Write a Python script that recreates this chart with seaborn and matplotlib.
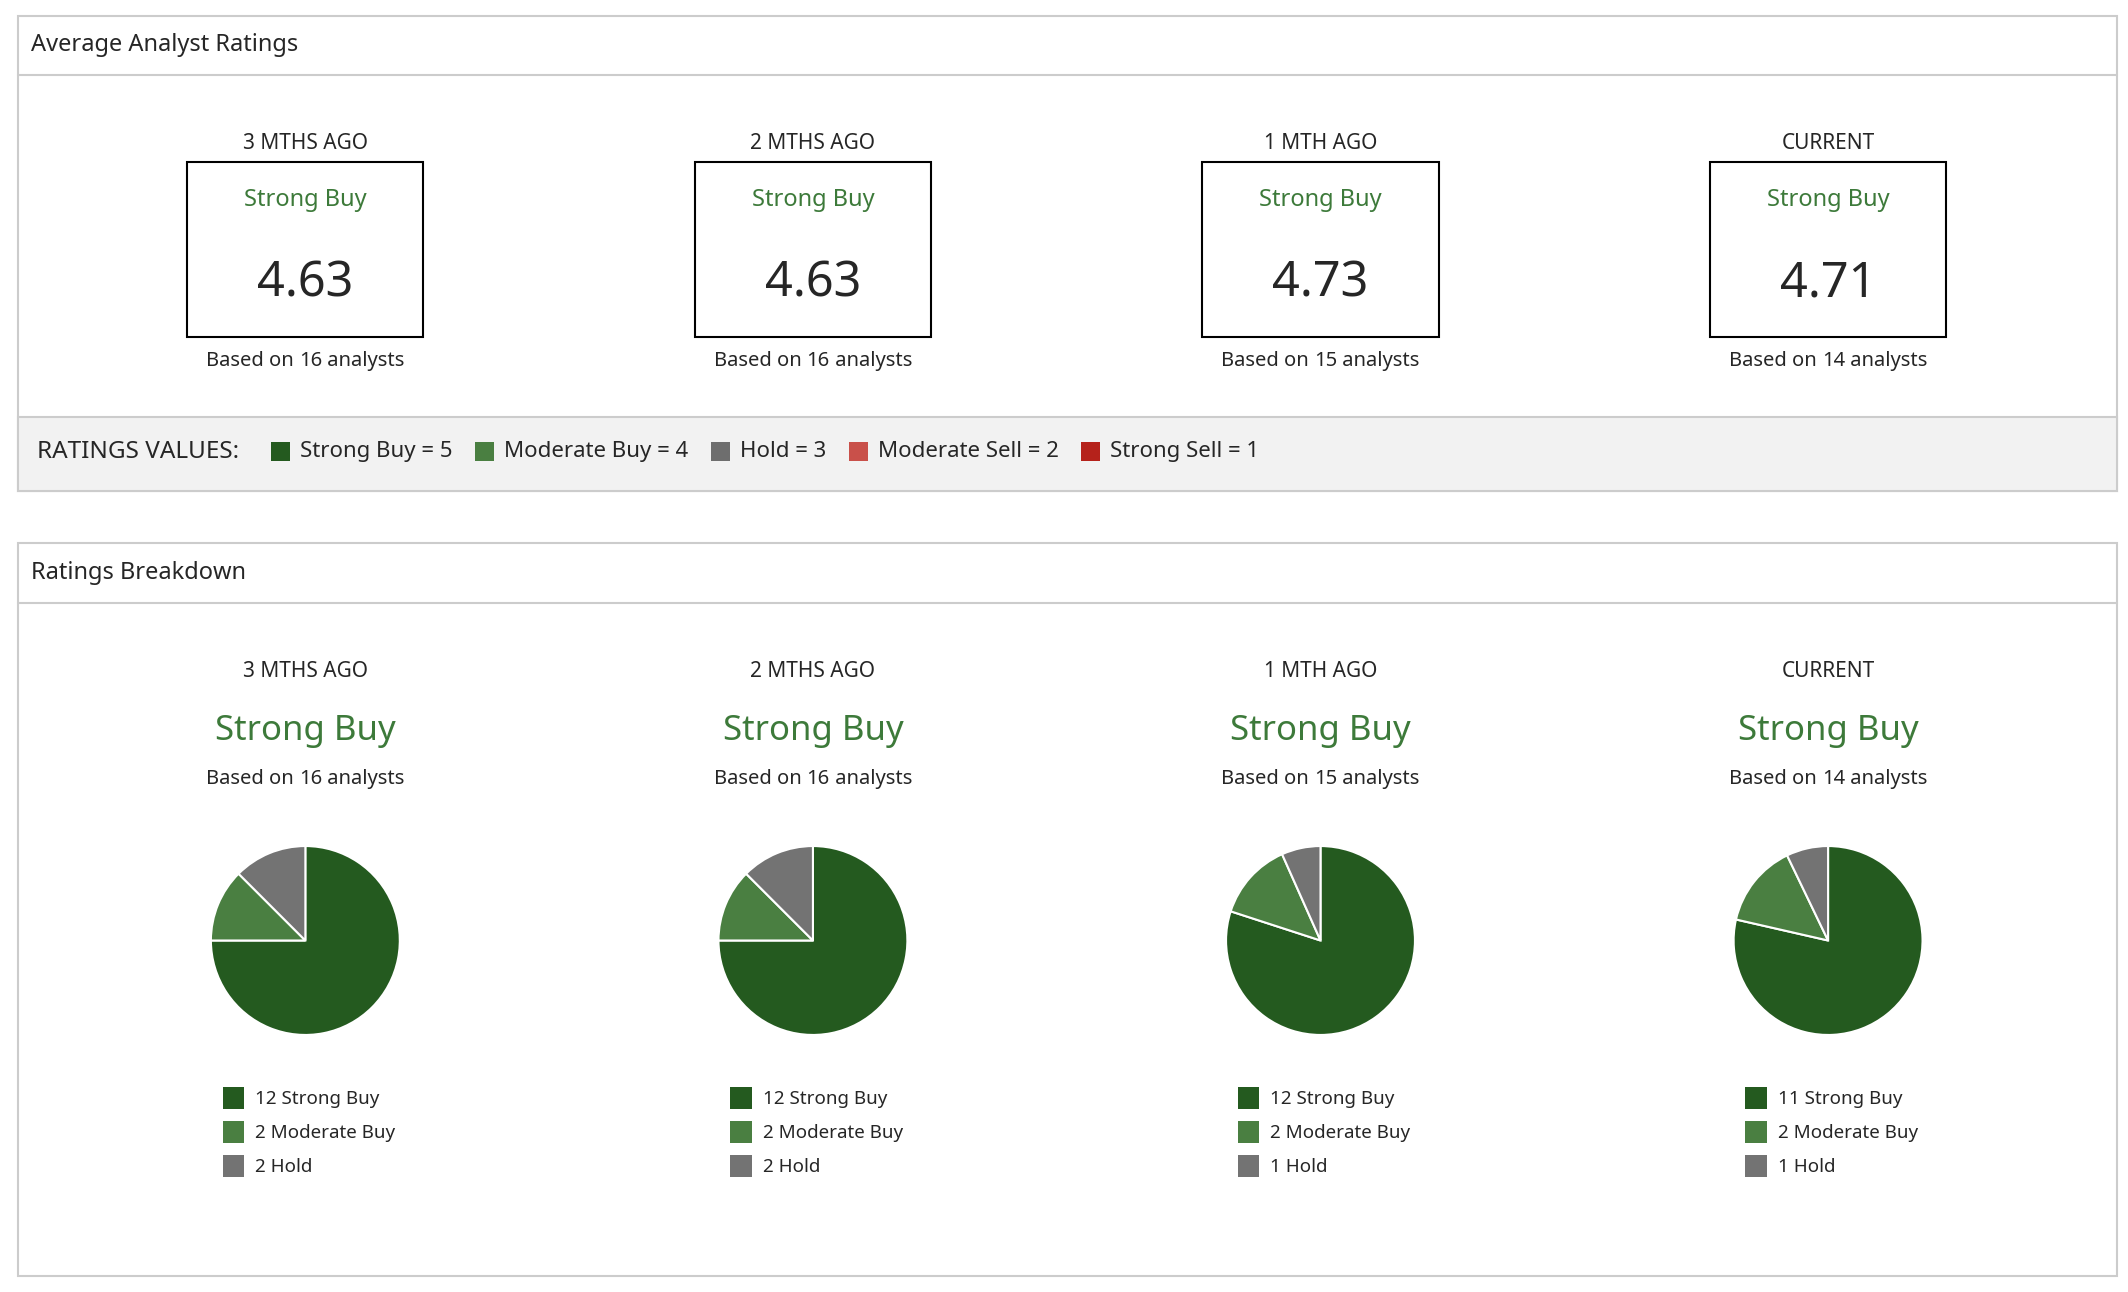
import matplotlib
matplotlib.use("Agg")
import matplotlib.pyplot as plt
import seaborn as sns
from matplotlib.patches import Rectangle

sns.set_theme(style="white")
plt.rcParams['font.family'] = ['Noto Sans', 'DejaVu Sans']

periods = ["3 MTHS AGO", "2 MTHS AGO", "1 MTH AGO", "CURRENT"]
avg_ratings = [4.63, 4.63, 4.73, 4.71]
consensus = ["Strong Buy", "Strong Buy", "Strong Buy", "Strong Buy"]
n_analysts = [16, 16, 15, 14]
strong_buy = [12, 12, 12, 11]
moderate_buy = [2, 2, 2, 2]
hold = [2, 2, 1, 1]
rating_names = ["Strong Buy = 5", "Moderate Buy = 4", "Hold = 3", "Moderate Sell = 2", "Strong Sell = 1"]

pal = sns.color_palette(["#245a1f", "#4a7f41", "#6e6e6e", "#c9504a", "#b5221b"])
pie_pal = sns.color_palette(["#245a1f", "#4a7f41", "#737373"])
green_txt = "#3d7a3a"

W, H = 1568, 952
fig = plt.figure(figsize=(21.28, 12.92), dpi=100)
ax = fig.add_axes([0, 0, 1, 1])
ax.set_xlim(0, W)
ax.set_ylim(H, 0)
ax.axis("off")
fig.canvas.draw()
renderer = fig.canvas.get_renderer()
scale = 2128 / W


def width_of(t):
    return t.get_window_extent(renderer).width / scale


def based_on(cx, y, n):
    parts = [("Based on ", "normal"), (str(n), "bold"), (" analysts", "normal")]
    texts = [ax.text(0, y, s, fontsize=14.5, weight=w, va="center") for s, w in parts]
    widths = [width_of(t) for t in texts]
    x = cx - sum(widths) / 2
    for t, w in zip(texts, widths):
        t.set_x(x)
        x += w


# panels
for y0, y1, hline, title in [(12, 362, 55, "Average Analyst Ratings"), (400, 940, 444, "Ratings Breakdown")]:
    ax.add_patch(Rectangle((13, y0), 1547, y1 - y0, fill=False, ec="#cccccc", lw=1.5))
    ax.plot([13, 1560], [hline, hline], color="#cccccc", lw=1.5)
    ax.text(23, (y0 + hline) / 2, title, fontsize=17, weight="bold", va="center")

ax.add_patch(Rectangle((13, 307), 1547, 55, fc="#f2f2f2", ec="#cccccc", lw=1.5))
t = ax.text(27, 333, "RATINGS VALUES:", fontsize=17.5, va="center")
x = 27 + width_of(t) + 24
for name, c in zip(rating_names, pal):
    ax.add_patch(Rectangle((x, 326), 14, 14, fc=c, ec="none"))
    t = ax.text(x + 21, 333, name, fontsize=16, va="center")
    x += 21 + width_of(t) + 17

centers = [225, 599, 973, 1347]
for i, cx in enumerate(centers):
    # top rating boxes
    ax.text(cx, 106, periods[i], fontsize=15, weight="bold", ha="center", va="center")
    ax.add_patch(Rectangle((cx - 87, 119), 174, 129, fill=False, ec="black", lw=1.5))
    ax.text(cx, 147, consensus[i], fontsize=17, color=green_txt, ha="center", va="center")
    ax.text(cx, 209, f"{avg_ratings[i]:.2f}", fontsize=35, ha="center", va="center")
    based_on(cx, 266, n_analysts[i])

    # breakdown
    ax.text(cx, 495, periods[i], fontsize=15, weight="bold", ha="center", va="center")
    ax.text(cx, 539, consensus[i], fontsize=25, color=green_txt, ha="center", va="center")
    based_on(cx, 574, n_analysts[i])

    r = 87
    pax = fig.add_axes([(cx - r) / W, 1 - (693 + r) / H, 2 * r / W, 2 * r / H])
    pax.pie([strong_buy[i], moderate_buy[i], hold[i]], colors=pie_pal, startangle=90,
            counterclock=False, wedgeprops=dict(edgecolor="white", linewidth=1.5))
    pax.set_aspect("equal")

    labels = [f"{strong_buy[i]} Strong Buy", f"{moderate_buy[i]} Moderate Buy", f"{hold[i]} Hold"]
    for j, (lab, c) in enumerate(zip(labels, pie_pal)):
        yy = 809 + 25 * j
        ax.add_patch(Rectangle((cx - 61, yy - 8), 16, 16, fc=c, ec="none"))
        ax.text(cx - 37, yy + 1, lab, fontsize=13.5, va="center")

fig.savefig("out.png", dpi=100, facecolor="white")
